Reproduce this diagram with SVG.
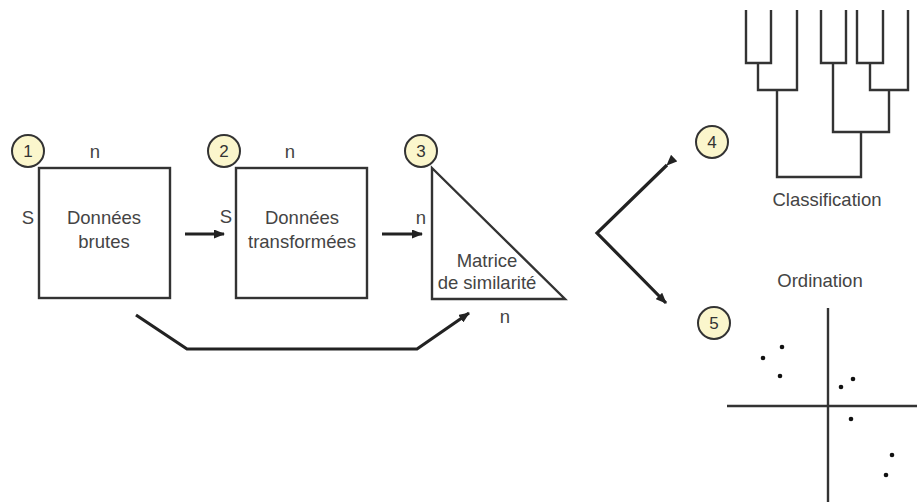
<svg xmlns="http://www.w3.org/2000/svg" width="917" height="502" viewBox="0 0 917 502">
<defs>
<style>
.box{fill:#fff;stroke:#333;stroke-width:2.4}
.num circle{fill:#fbf6cc;stroke:#333;stroke-width:2}
.t{font-family:"Liberation Sans",Arial,sans-serif;font-size:18.5px;fill:#444;text-anchor:middle}
.nt{font-family:"Liberation Sans",Arial,sans-serif;font-size:17px;fill:#333;text-anchor:middle}
.con{fill:none;stroke:#222;stroke-width:3.2;stroke-linejoin:miter}
.tree{fill:none;stroke:#333;stroke-width:2.4}
.ax{stroke:#333;stroke-width:2.4}
</style>
<marker id="ah" markerWidth="11" markerHeight="9" refX="10" refY="4.5" orient="auto" markerUnits="userSpaceOnUse">
<path d="M0,0 L11,4.5 L0,9 z" fill="#222"/>
</marker>
</defs>
<rect width="917" height="502" fill="#fff"/>

<g id="node1">
<rect class="box" x="39" y="168" width="131" height="130"/>
<g class="num"><circle cx="28" cy="151" r="16"/><text class="nt" x="28" y="157">1</text></g>
<text class="t" x="95" y="158">n</text>
<text class="t" x="28" y="224">S</text>
<text class="t" x="104" y="224">Données</text>
<text class="t" x="104" y="248">brutes</text>
</g>

<g id="node2">
<rect class="box" x="236" y="168" width="131" height="130"/>
<g class="num"><circle cx="224" cy="151" r="16"/><text class="nt" x="224" y="157">2</text></g>
<text class="t" x="290" y="158">n</text>
<text class="t" x="226" y="223">S</text>
<text class="t" x="302" y="224">Données</text>
<text class="t" x="302" y="248">transformées</text>
</g>

<g id="node3">
<path class="box" d="M432,168 L432,299 L565,299 Z"/>
<g class="num"><circle cx="421" cy="151" r="16"/><text class="nt" x="421" y="157">3</text></g>
<text class="t" x="421" y="224">n</text>
<text class="t" x="487" y="267">Matrice</text>
<text class="t" x="487" y="289">de similarité</text>
<text class="t" x="505" y="323">n</text>
</g>

<g id="node4">
<g class="num"><circle cx="712" cy="142" r="16"/><text class="nt" x="712" y="148">4</text></g>
<path class="tree" d="M746,10 V63 H771 V10 M758,63 V90 H797 V10 M821,10 V63 H846 V10 M857,10 V63 H883 V10 M870,63 V90 H908 V10 M833,63 V132 H889 V90 M777,90 V177 H861 V132"/>
<text class="t" x="827" y="206">Classification</text>
</g>

<g id="node5">
<text class="t" x="820" y="287">Ordination</text>
<g class="num"><circle cx="714" cy="323" r="16"/><text class="nt" x="714" y="329">5</text></g>
<line class="ax" x1="828" y1="308" x2="828" y2="502"/>
<line class="ax" x1="727" y1="406" x2="917" y2="406"/>
<g fill="#111">
<circle cx="763" cy="358" r="2.3"/>
<circle cx="782" cy="347" r="2.3"/>
<circle cx="780" cy="376" r="2.3"/>
<circle cx="841" cy="387" r="2.3"/>
<circle cx="853" cy="379" r="2.3"/>
<circle cx="851" cy="419" r="2.3"/>
<circle cx="892" cy="455" r="2.3"/>
<circle cx="886" cy="475" r="2.3"/>
</g>
</g>

<g id="connectors">
<line class="con" x1="185" y1="234" x2="224" y2="234" marker-end="url(#ah)"/>
<line class="con" x1="382" y1="234" x2="422" y2="234" marker-end="url(#ah)"/>
<polyline class="con" points="136,315 187,349 417,349 469,313" marker-end="url(#ah)"/>
<polyline class="con" points="667,165 597,233 666,303" marker-start="url(#ah)" marker-end="url(#ah)"/>
</g>
</svg>
